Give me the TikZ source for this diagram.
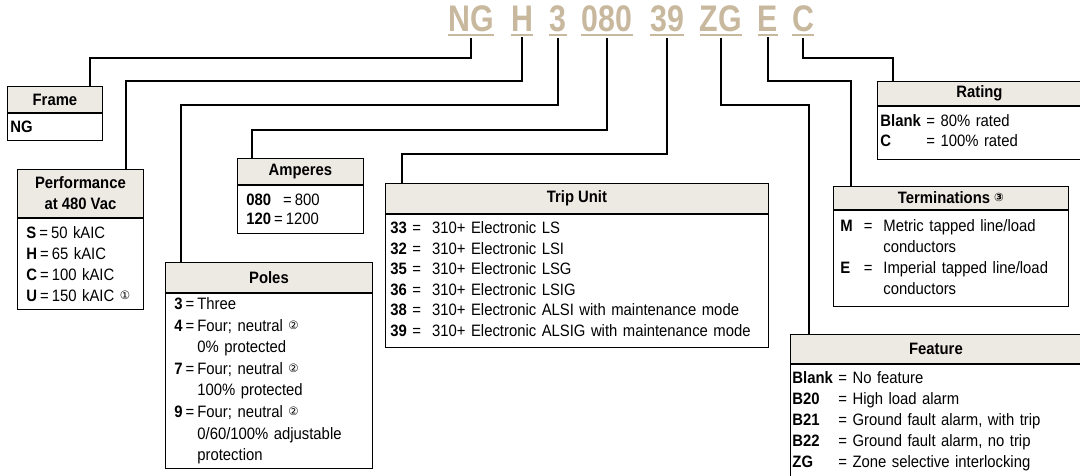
\documentclass[tikz,border=0pt]{standalone}
\usepackage{fontspec}
\setmainfont{Liberation Sans}[FakeStretch=0.9]
\newfontfamily\codefont{Liberation Sans}[FakeStretch=0.82]
\newfontfamily\circfont{DejaVu Sans}
\usetikzlibrary{positioning}
\definecolor{codetan}{RGB}{200,184,158}
\definecolor{headfill}{RGB}{237,233,227}
\newcommand{\bodysize}{\fontsize{16.5}{21}\selectfont}
\newcommand{\circnum}[1]{\raisebox{2pt}{\circfont\fontsize{11.5}{11.5}\selectfont #1}}
\newcommand{\eq}{\kern3pt=\kern3pt}

\begin{document}
\begin{tikzpicture}[
    x=1pt, y=1pt,
    % Define styles
    code/.style={anchor=base, inner sep=0pt, text=codetan, font=\codefont\bfseries\fontsize{37}{37}\selectfont},
    uline/.style={draw=codetan, line width=2.4pt},
    head/.style={draw, line width=0.9pt, fill=headfill, anchor=north west, align=center, inner sep=0pt, font=\bodysize\bfseries},
    body/.style={draw, line width=0.9pt, fill=white, align=left, inner ysep=0pt, font=\bodysize},
    link/.style={line width=1.9pt}
]
    \path[use as bounding box, fill=white] (0,0) rectangle (1080,-475);

    % --- CATALOG NUMBER ---
    \node (c_frame) [code] at (471,-31.7) {NG};
    \node (c_perf) [code] at (522,-31.7) {H};
    \node (c_poles) [code] at (558,-31.7) {3};
    \node (c_amps) [code] at (607,-31.7) {080};
    \node (c_trip) [code] at (667,-31.7) {39};
    \node (c_feature) [code] at (721,-31.7) {ZG};
    \node (c_term) [code] at (768,-31.7) {E};
    \node (c_rating) [code] at (803,-31.7) {C};

    \foreach \c in {c_frame, c_perf, c_poles, c_amps, c_trip, c_feature, c_term, c_rating}
        \draw [uline] ([yshift=-2.8pt]\c.south west) -- ([yshift=-2.8pt]\c.south east);

    % --- LEFT BOXES ---
    \node (frame_head) [head, minimum width=95pt, minimum height=26pt] at (7,-86) {Frame};
    \node (frame_body) [body, below=0pt of frame_head, text width=89pt, inner xsep=3pt, minimum height=27pt] {\textbf{NG}};

    \node (perf_head) [head, minimum width=126pt, minimum height=48pt] at (17,-169) {Performance\\at 480 Vac};
    \node (perf_body) [body, below=0pt of perf_head, text width=108pt, inner xsep=9pt, minimum height=91pt]
        {\textbf{S}\eq 50 kAIC\\\textbf{H}\eq 65 kAIC\\\textbf{C}\eq 100 kAIC\\\textbf{U}\eq 150 kAIC \circnum{①}};

    \node (amps_head) [head, minimum width=126pt, minimum height=26pt] at (237,-158) {Amperes};
    \node (amps_body) [body, below=0pt of amps_head, text width=108pt, inner xsep=9pt, minimum height=48pt, font=\fontsize{16.5}{19}\selectfont]
        {\textbf{080}\hspace{12pt}=\kern3pt 800\\\textbf{120}\eq 1200};

    \node (poles_head) [head, minimum width=207pt, minimum height=30pt] at (165,-262) {Poles};
    \node (poles_body) [body, below=0pt of poles_head, text width=189pt, inner xsep=9pt, minimum height=175pt, font=\fontsize{16.5}{21.6}\selectfont]
        {\begin{tabular}{@{}l@{\kern3pt}l@{\kern3pt}l@{}}
            \textbf{3} & = & Three\\
            \textbf{4} & = & Four; neutral \circnum{②}\\
             & & 0\% protected\\
            \textbf{7} & = & Four; neutral \circnum{②}\\
             & & 100\% protected\\
            \textbf{9} & = & Four; neutral \circnum{②}\\
             & & 0/60/100\% adjustable\\
             & & protection
        \end{tabular}};

    % --- MIDDLE BOX ---
    \node (trip_head) [head, minimum width=383pt, minimum height=30pt] at (385,-183) {Trip Unit};
    \node (trip_body) [body, below=0pt of trip_head, text width=373pt, inner xsep=5pt, minimum height=133pt, font=\fontsize{16.5}{20.6}\selectfont]
        {\begin{tabular}{@{}l@{\ =\ \ }l@{}}
            \textbf{33} & 310+ Electronic LS\\
            \textbf{32} & 310+ Electronic LSI\\
            \textbf{35} & 310+ Electronic LSG\\
            \textbf{36} & 310+ Electronic LSIG\\
            \textbf{38} & 310+ Electronic ALSI with maintenance mode\\
            \textbf{39} & 310+ Electronic ALSIG with maintenance mode
        \end{tabular}};

    % --- RIGHT BOXES ---
    \node (rating_head) [head, minimum width=204pt, minimum height=24pt] at (877,-81) {Rating};
    \node (rating_body) [body, below=0pt of rating_head, text width=198pt, inner xsep=3pt, minimum height=53pt, font=\fontsize{16.5}{20}\selectfont]
        {\begin{tabular}{@{}l@{\ }l@{}}
            \textbf{Blank} & = 80\% rated\\
            \textbf{C} & = 100\% rated
        \end{tabular}};

    \node (term_head) [head, minimum width=235pt, minimum height=23pt] at (833,-186) {Terminations \circnum{③}};
    \node (term_body) [body, below=0pt of term_head, text width=221pt, inner xsep=7pt, minimum height=96pt]
        {\begin{tabular}{@{}l@{\ \ }l@{\ \ }l@{}}
            \textbf{M} & = & Metric tapped line/load\\
             & & conductors\\
            \textbf{E} & = & Imperial tapped line/load\\
             & & conductors
        \end{tabular}};

    \node (feature_head) [head, minimum width=291pt, minimum height=29pt] at (790,-334) {Feature};
    \node (feature_body) [body, below=0pt of feature_head, text width=287pt, inner xsep=2pt, minimum height=113pt]
        {\begin{tabular}{@{}l@{\ }l@{}}
            \textbf{Blank} & = No feature\\
            \textbf{B20} & = High load alarm\\
            \textbf{B21} & = Ground fault alarm, with trip\\
            \textbf{B22} & = Ground fault alarm, no trip\\
            \textbf{ZG} & = Zone selective interlocking
        \end{tabular}};

    % --- DRAW CONNECTIONS ---
    \draw [link] ([yshift=-5.3pt]c_frame.south) -- ++(0,-20.5) -| ([xshift=83pt]frame_head.north west);
    \draw [link] ([yshift=-5.3pt]c_perf.south) -- ++(0,-44) -| ([xshift=109pt]perf_head.north west);
    \draw [link] ([yshift=-5.3pt]c_poles.south) -- ++(0,-67.5) -| ([xshift=16pt]poles_head.north west);
    \draw [link] ([yshift=-5.3pt]c_amps.south) -- ++(0,-92) -| ([xshift=15pt]amps_head.north west);
    \draw [link] ([yshift=-5.3pt]c_trip.south) -- ++(0,-116) -| ([xshift=17pt]trip_head.north west);
    \draw [link] ([yshift=-5.3pt]c_feature.south) -- ++(0,-67.5) -| ([xshift=19pt]feature_head.north west);
    \draw [link] ([yshift=-5.3pt]c_term.south) -- ++(0,-44) -| ([xshift=18pt]term_head.north west);
    \draw [link] ([yshift=-5.3pt]c_rating.south) -- ++(0,-20.5) -| ([xshift=16pt]rating_head.north west);

\end{tikzpicture}
\end{document}
